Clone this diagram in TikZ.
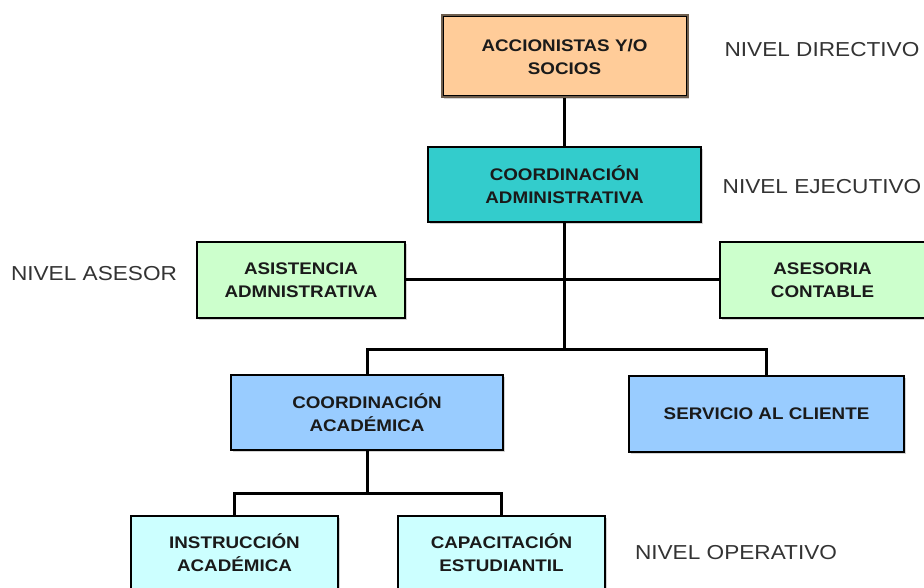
\documentclass[tikz,border=0pt]{standalone}
\usepackage{fontspec}
\setmainfont{Liberation Sans}[FakeStretch=1.12]
\usetikzlibrary{shadows}
\definecolor{peach}{HTML}{FFCC99}
\definecolor{teal1}{HTML}{33CCCC}
\definecolor{mint}{HTML}{CCFFCC}
\definecolor{sky}{HTML}{99CCFF}
\definecolor{ice}{HTML}{CCFFFF}
\definecolor{boxtext}{HTML}{1A1A1A}
\definecolor{lbltext}{HTML}{333333}
\definecolor{brownedge}{HTML}{6E5E4E}
\tikzset{
  orgbox/.style={draw=black, line width=1.2pt, inner sep=0pt, align=center,
    text=boxtext, font=\fontsize{16.8}{23}\selectfont\bfseries,
    drop shadow={shadow xshift=2pt, shadow yshift=-2pt, opacity=0.35, fill=gray}},
  level/.style={inner sep=0pt, text=lbltext, font=\fontsize{20.2}{22}\selectfont},
  conn/.style={draw=black, line width=3pt}
}
\begin{document}
\begin{tikzpicture}[x=1pt,y=-1pt]
\useasboundingbox (0,0) rectangle (924,588);
% boxes
\node[orgbox, fill=peach, draw=brownedge, line width=3pt, minimum width=245pt, minimum height=81pt] (acc) at (564.5,56.5) {ACCIONISTAS Y/O\\SOCIOS};
\draw[black, line width=1pt] ([xshift=2.5pt,yshift=-2.5pt]acc.north west) rectangle ([xshift=-2.5pt,yshift=2.5pt]acc.south east);
\node[orgbox, fill=teal1, minimum width=273pt, minimum height=75pt] (adm) at (564.5,184.5) {COORDINACIÓN\\ADMINISTRATIVA};
\node[orgbox, fill=mint, minimum width=208pt, minimum height=76pt] (asis) at (301,280) {ASISTENCIA\\ADMNISTRATIVA};
\node[orgbox, fill=mint, minimum width=205pt, minimum height=76pt] (ases) at (822.5,280) {ASESORIA\\CONTABLE};
\node[orgbox, fill=sky, minimum width=272pt, minimum height=75pt] (acad) at (367,412.5) {COORDINACIÓN\\ACADÉMICA};
\node[orgbox, fill=sky, minimum width=275pt, minimum height=76pt] (serv) at (766.5,414) {SERVICIO AL CLIENTE};
\node[orgbox, fill=ice, minimum width=207pt, minimum height=74pt] (instr) at (234.5,553) {INSTRUCCIÓN\\ACADÉMICA};
\node[orgbox, fill=ice, minimum width=207pt, minimum height=74pt] (cap) at (501.5,553) {CAPACITACIÓN\\ESTUDIANTIL};
% level labels
\node[level] (ldir) at (822,50) {NIVEL DIRECTIVO};
\node[level] (leje) at (822,187) {NIVEL EJECUTIVO};
\node[level] (lase) at (94,274) {NIVEL ASESOR};
\node[level] (lope) at (736,553) {NIVEL OPERATIVO};
% joints
\coordinate (j1) at (564.5,349);
\coordinate (j2) at (367,493);
% connectors
\draw[conn] (acc.south) -- (adm.north);
\draw[conn] (adm.south) -- (j1);
\draw[conn] (asis.east) -- (ases.west);
\draw[conn] (acad.north) |- (j1) -| (serv.north);
\draw[conn] (acad.south) -- (j2);
\draw[conn] (instr.north) |- (j2) -| (cap.north);
\end{tikzpicture}
\end{document}
